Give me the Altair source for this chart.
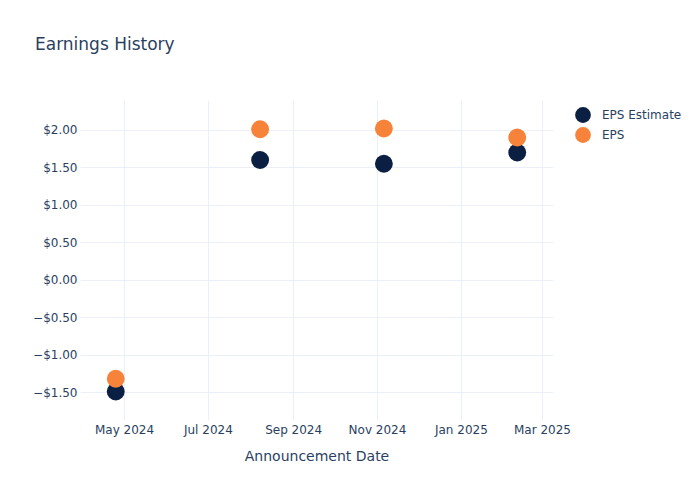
import altair as alt
import pandas as pd

dates = ["2024-04-25T00:00:00", "2024-08-08T00:00:00", "2024-11-06T00:00:00", "2025-02-11T00:00:00"]
eps_estimate = [-1.49, 1.60, 1.55, 1.70]
eps_actual = [-1.32, 2.01, 2.02, 1.90]
series = ["EPS Estimate", "EPS"]
colors = ["#0B1F42", "#F7833A"]

rows = []
for d, e in zip(dates, eps_estimate):
    rows.append({"date": d, "value": e, "series": series[0], "order": 0})
for d, a in zip(dates, eps_actual):
    rows.append({"date": d, "value": a, "series": series[1], "order": 1})
df = pd.DataFrame(rows)

FONT = "DejaVu Sans"
TXT = "#2a3f5f"
GRID = "#EBF0F8"

x_ticks = [
    alt.DateTime(year=2024, month=5, date=1),
    alt.DateTime(year=2024, month=7, date=1),
    alt.DateTime(year=2024, month=9, date=1),
    alt.DateTime(year=2024, month=11, date=1),
    alt.DateTime(year=2025, month=1, date=1),
    alt.DateTime(year=2025, month=3, date=1),
]
y_ticks = [-1.5, -1.0, -0.5, 0.0, 0.5, 1.0, 1.5, 2.0]

chart = alt.Chart(df).mark_circle(size=320, opacity=1).encode(
    x=alt.X(
        "date:T",
        title="Announcement Date",
        scale=alt.Scale(domain=[alt.DateTime(year=2024, month=3, date=30),
                                alt.DateTime(year=2025, month=3, date=9)]),
        axis=alt.Axis(values=x_ticks, format="%b %Y", labelFont=FONT, labelFontSize=12,
                      labelColor=TXT, titleFont=FONT, titleFontSize=14, titleColor=TXT,
                      titleFontWeight="normal", ticks=False, domain=False, gridColor=GRID,
                      labelPadding=4, titlePadding=14, labelFlush=False),
    ),
    y=alt.Y(
        "value:Q",
        title=None,
        scale=alt.Scale(domain=[-1.87, 2.40], nice=False, zero=False),
        axis=alt.Axis(values=y_ticks, format="$.2f", labelFont=FONT, labelFontSize=12,
                      labelColor=TXT, ticks=False, domain=False, gridColor=GRID,
                      labelPadding=3),
    ),
    color=alt.Color(
        "series:N",
        scale=alt.Scale(domain=series, range=colors),
        legend=alt.Legend(title=None, orient="none", legendX=494, legendY=6,
                          labelFont=FONT, labelFontSize=12, labelColor=TXT,
                          symbolSize=250, symbolType="circle", rowPadding=3,
                          labelOffset=10),
    ),
    order=alt.Order("order:Q"),
).properties(
    width=473,
    height=320,
    background="white",
    title=alt.TitleParams("Earnings History", anchor="start", frame="group", dx=-45,
                          offset=46, font=FONT, fontSize=17, color=TXT,
                          fontWeight="normal"),
    autosize=alt.AutoSizeParams(type="none"),
    padding={"left": 72, "top": 92, "right": 132, "bottom": 60},
).configure_view(stroke=None)

chart.save("out.html", embed_options={"renderer": "svg", "actions": False})
